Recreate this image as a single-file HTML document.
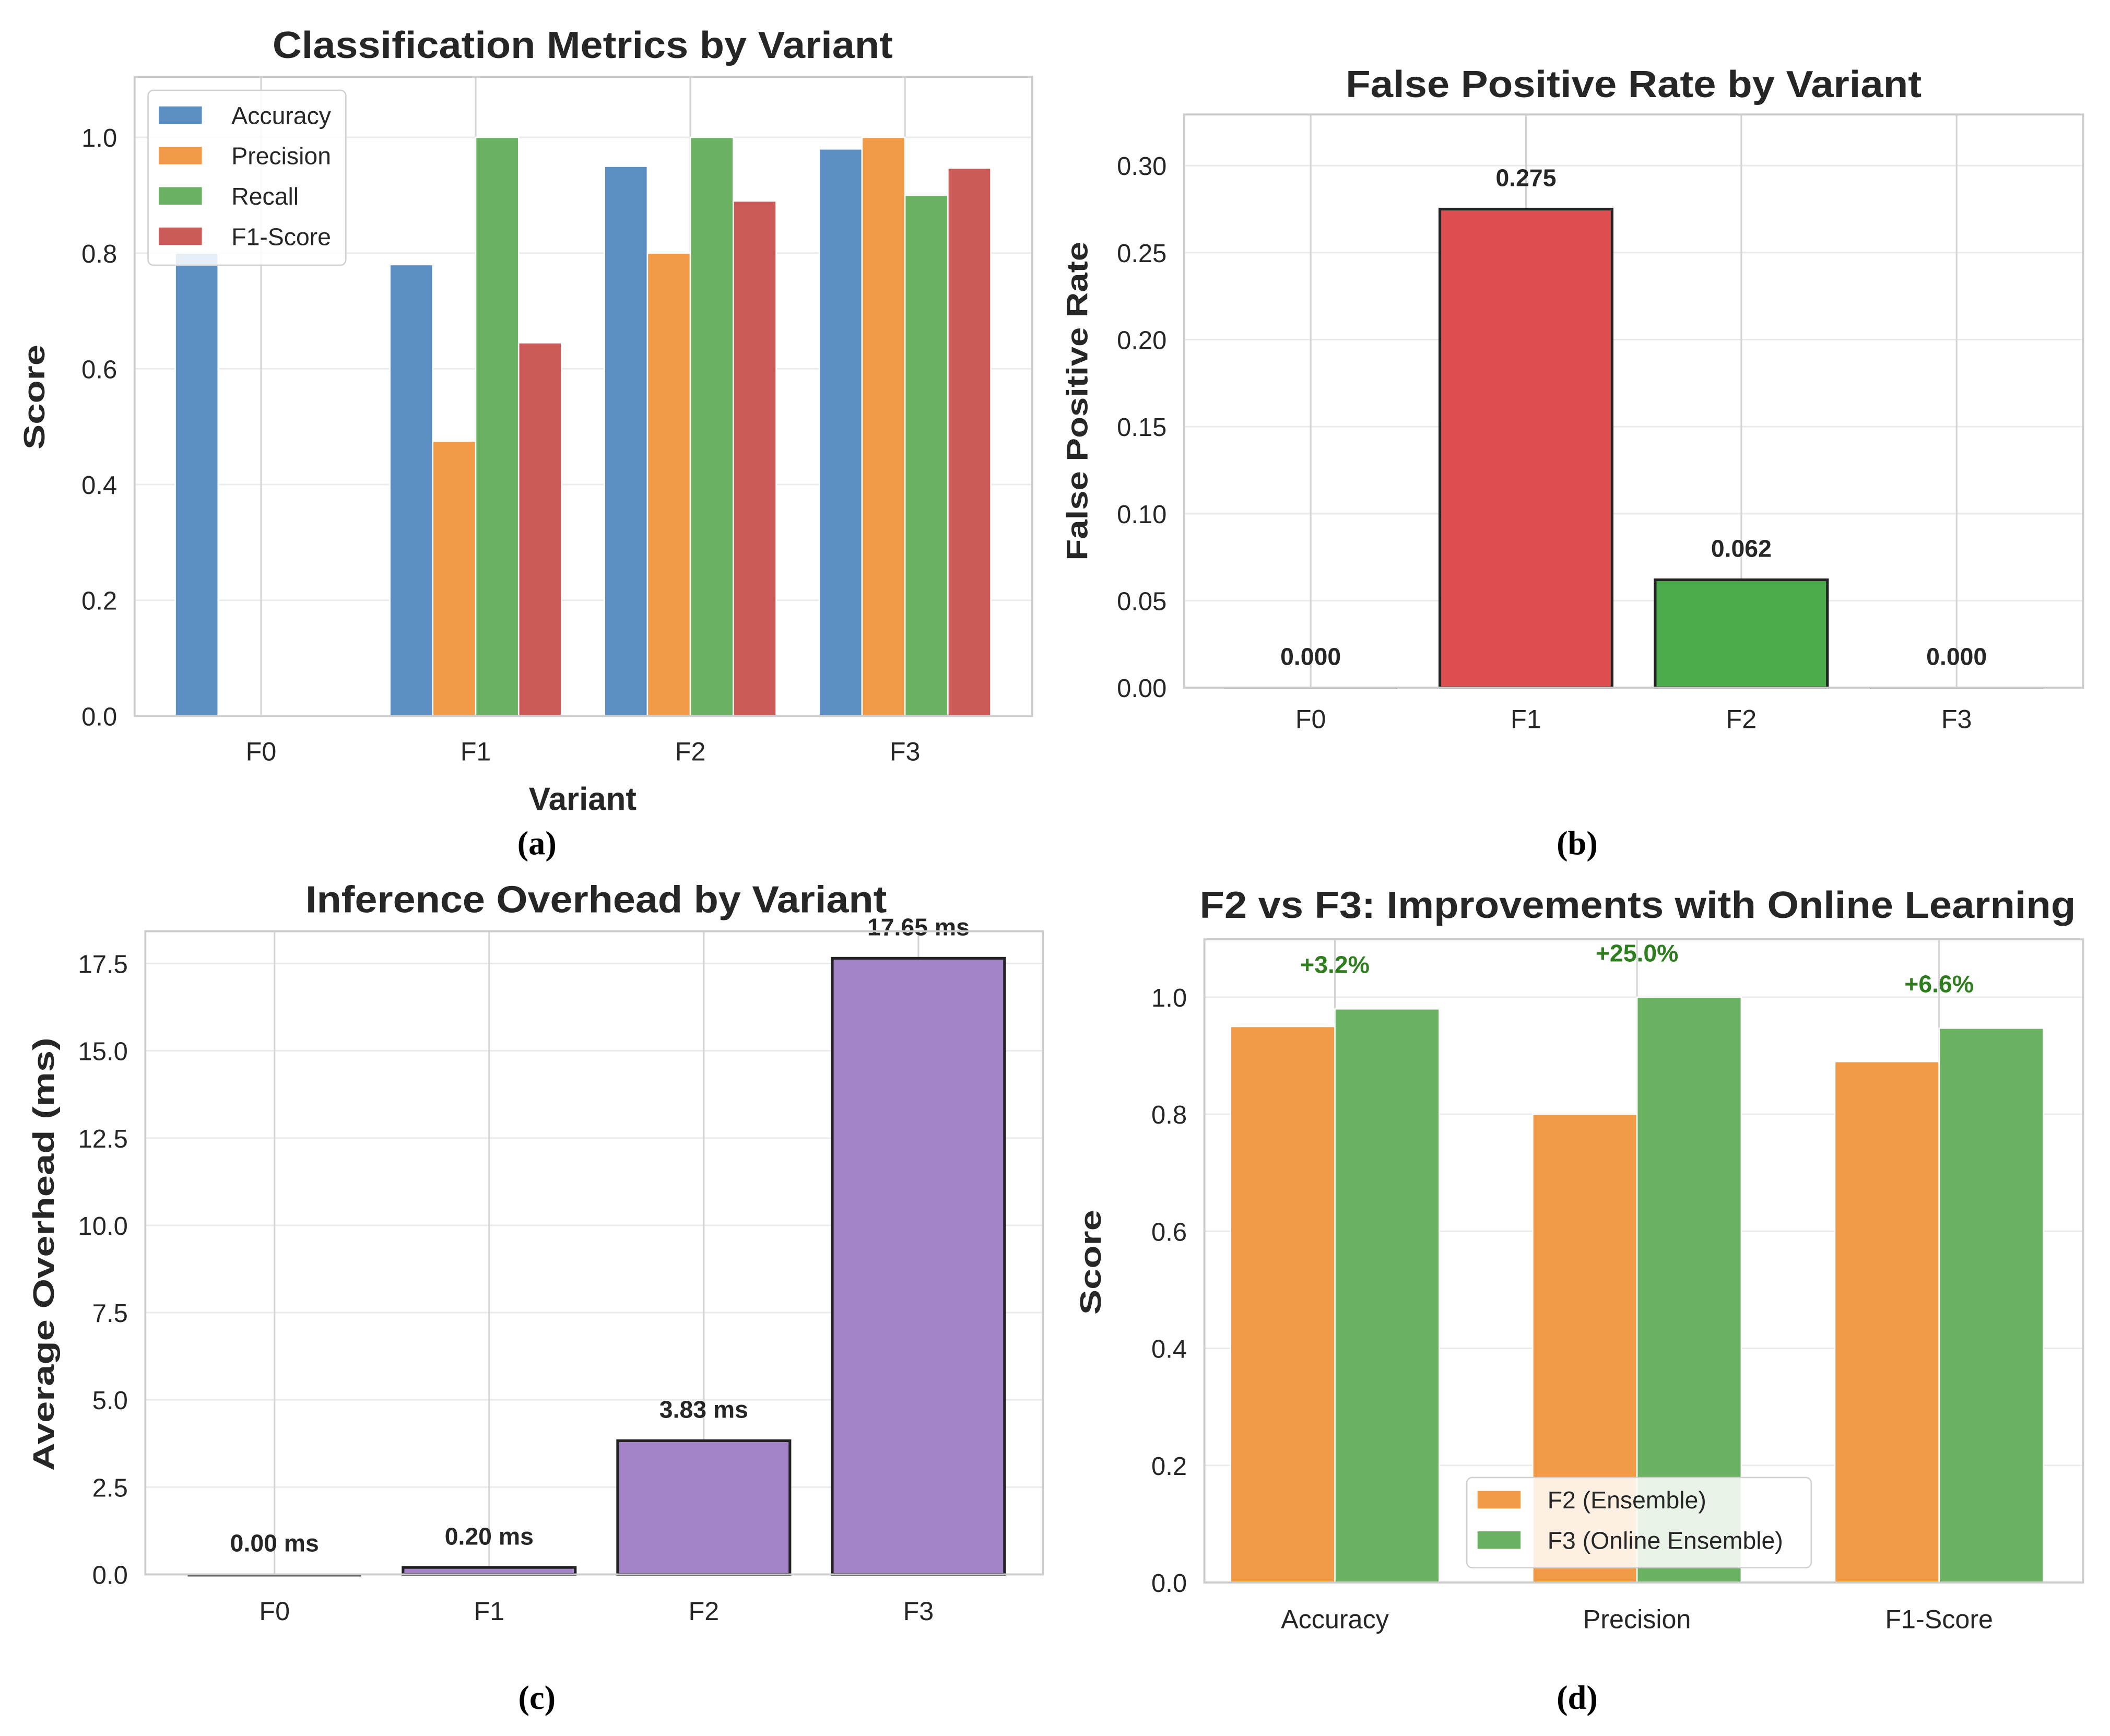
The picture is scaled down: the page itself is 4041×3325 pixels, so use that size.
<!DOCTYPE html>
<html><head><meta charset="utf-8">
<style>
html,body{margin:0;padding:0;background:#fff;}
svg{display:block;font-family:"Liberation Sans",Arial,sans-serif;}
</style></head>
<body>
<svg id="fig" width="4041" height="3325" viewBox="0 0 1568 1290" xmlns="http://www.w3.org/2000/svg"></svg>
<script>
// ---- data ----
const variants = ["F0","F1","F2","F3"];
const metricNames = ["Accuracy","Precision","Recall","F1-Score"];
const accuracy = [0.80,0.78,0.95,0.98];
const precision = [0,0.475,0.80,1.0];
const recall = [0,1.0,1.0,0.90];
const f1score = [0,0.645,0.89,0.947];
const fprValues = [0.000,0.275,0.062,0.000];
const fprLabels = ["0.000","0.275","0.062","0.000"];
const overheadValues = [0.00,0.20,3.83,17.65];
const overheadLabels = ["0.00 ms","0.20 ms","3.83 ms","17.65 ms"];
const cmpCategories = ["Accuracy","Precision","F1-Score"];
const f2Scores = [0.95,0.80,0.89];
const f3Scores = [0.98,1.0,0.947];
const improvementLabels = ["+3.2%","+25.0%","+6.6%"];
const scoreTicks = [0,0.2,0.4,0.6,0.8,1.0];
const fprTicks = [0,0.05,0.10,0.15,0.20,0.25,0.30];
const overheadTicks = [0,2.5,5,7.5,10,12.5,15,17.5];

const svg = document.getElementById('fig');
const NS = "http://www.w3.org/2000/svg";
function mk(tag, attrs, parent){
  const e = document.createElementNS(NS, tag);
  for (const k in attrs) e.setAttribute(k, attrs[k]);
  (parent||svg).appendChild(e);
  return e;
}
function txt(s, attrs, parent){ const e = mk('text', attrs, parent); e.textContent = s; return e; }

function panel(name, box, ymax, ticks, fmt, cats, catX, xoff){
  const g = mk('g', {});
  
  
  const y = v => box.y1 - (v/ymax)*(box.y1-box.y0);
  ticks.forEach(t=>{
    const l = mk('line',{x1:box.x0,x2:box.x1,y1:y(t),y2:y(t),stroke:'#ebebeb','stroke-width':1.2},g);
    
    
    const tl = txt(fmt(t),{x:box.x0-13,y:y(t)+7,'text-anchor':'end','font-size':19,fill:'#262626'},g);
    
    
  });
  cats.forEach((c,i)=>{
    const l = mk('line',{x1:catX(i),x2:catX(i),y1:box.y0,y2:box.y1,stroke:'#d4d4d4','stroke-width':1.2},g);
    
    
    const tl = txt(c,{x:catX(i),y:box.y1+(xoff||30),'text-anchor':'middle','font-size':19.5,fill:'#262626'},g);
    
    
  });
  return {g,y};
}
function frame(g, box){
  const r = mk('rect',{x:box.x0,y:box.y0,width:box.x1-box.x0,height:box.y1-box.y0,fill:'none',stroke:'#cccccc','stroke-width':1.5},g);
  
  
}
function title(g, s, x, y, len){
  const t = txt(s,{x:x,y:y,'text-anchor':'middle','font-size':28,'font-weight':'bold',fill:'#262626',textLength:len,lengthAdjust:'spacingAndGlyphs'},g);
  
  
}
function ylabel(g, s, x, y, len){
  const t = txt(s,{x:0,y:0,transform:`translate(${x},${y}) rotate(-90)`,'text-anchor':'middle','font-size':22,'font-weight':'bold',fill:'#262626',textLength:len,lengthAdjust:'spacingAndGlyphs'},g);
  
  
}
function caption(s, x, y){
  const t = txt(s,{x:x,y:y,'text-anchor':'middle','font-size':25,'font-weight':'bold','font-family':'"Liberation Serif",serif',fill:'#000'});
  
  
}

// ---- Panel A ----
(function(){
  const box={x0:100,x1:767,y0:57,y1:532};
  const ymax = (532-57)/430;
  const cx = i => 194 + i*159.5;
  const p = panel('panel-a-classification-metrics', box, ymax, scoreTicks, t=>t.toFixed(1), variants, cx, 33);
  const series=[accuracy,precision,recall,f1score];
  const colors=['#5b8fc4','#f19a48','#6ab161','#cc5a58'];
  const w=31.9;
  series.forEach((s,k)=>{
    s.forEach((v,i)=>{
      const x = cx(i) + (k-1.5)*w - w/2;
      const r = mk('rect',{x:x,y:p.y(v),width:w,height:p.y(0)-p.y(v),fill:colors[k],stroke:'#fff','stroke-width':1},p.g);
      
      
    });
  });
  frame(p.g, box);
  title(p.g,'Classification Metrics by Variant',433,43,461);
  ylabel(p.g,'Score',33,295,78);
  const xl = txt('Variant',{x:433,y:602,'text-anchor':'middle','font-size':24,'font-weight':'bold',fill:'#262626'},p.g);
  
  
  const lg = mk('g',{},p.g);
  
  
  mk('rect',{x:110,y:67,width:147,height:130,rx:4,fill:'#fff','fill-opacity':0.85,stroke:'#d0d0d0'},lg);
  metricNames.forEach((m,k)=>{
    const e = mk('g',{},lg);
    
    
    mk('rect',{x:118,y:79+k*30,width:32,height:13,fill:colors[k]},e);
    txt(m,{x:172,y:92+k*30,'font-size':18,fill:'#262626'},e);
  });
})();

// ---- Panel B ----
(function(){
  const box={x0:880,x1:1548,y0:85,y1:511};
  const ymax = 0.05*(511-85)/64.67;
  const cx = i => 974 + i*160;
  const p = panel('panel-b-false-positive-rate', box, ymax, fprTicks, t=>t.toFixed(2), variants, cx, 30);
  const colors=['#8c8c8c','#dc4e4f','#4cab4c','#5b8fc4'];
  const w=128;
  fprValues.forEach((v,i)=>{
    const r = mk('rect',{x:cx(i)-w/2,y:p.y(v),width:w,height:Math.max(p.y(0)-p.y(v),0.5),fill:colors[i],stroke:'#222','stroke-width':v>0?2:1},p.g);
    
    
    const t = txt(fprLabels[i],{x:cx(i),y:p.y(v)-17,'text-anchor':'middle','font-size':18,'font-weight':'bold',fill:'#262626'},p.g);
    
    
  });
  frame(p.g, box);
  title(p.g,'False Positive Rate by Variant',1214,72,428);
  ylabel(p.g,'False Positive Rate',808,298,237);
})();

// ---- Panel C ----
(function(){
  const box={x0:108,x1:775,y0:692,y1:1170};
  const ymax = 2.5*(1170-692)/64.86;
  const cx = i => 204 + i*159.5;
  const p = panel('panel-c-inference-overhead', box, ymax, overheadTicks, t=>t.toFixed(1), variants, cx, 34);
  const w=128;
  overheadValues.forEach((v,i)=>{
    const r = mk('rect',{x:cx(i)-w/2,y:p.y(v),width:w,height:Math.max(p.y(0)-p.y(v),1),fill:'#a283c8',stroke:'#222','stroke-width':v>0.1?2:1},p.g);
    
    
    const t = txt(overheadLabels[i],{x:cx(i),y:p.y(v)-17,'text-anchor':'middle','font-size':18,'font-weight':'bold',fill:'#262626'},p.g);
    
    
  });
  frame(p.g, box);
  title(p.g,'Inference Overhead by Variant',443,678,432);
  ylabel(p.g,'Average Overhead (ms)',40,932,322);
})();

// ---- Panel D ----
(function(){
  const box={x0:895,x1:1548,y0:698,y1:1176};
  const ymax = (1176-698)/435;
  const cx = i => 992 + i*224.5;
  const p = panel('panel-d-f2-vs-f3', box, ymax, scoreTicks, t=>t.toFixed(1), cmpCategories, cx, 34);
  const w=77.5;
  cmpCategories.forEach((c,i)=>{
    const a = mk('rect',{x:cx(i)-w,y:p.y(f2Scores[i]),width:w,height:p.y(0)-p.y(f2Scores[i]),fill:'#f19a48',stroke:'#fff','stroke-width':1},p.g);
    
    
    const b = mk('rect',{x:cx(i),y:p.y(f3Scores[i]),width:w,height:p.y(0)-p.y(f3Scores[i]),fill:'#6ab161',stroke:'#fff','stroke-width':1},p.g);
    
    
    const t = txt(improvementLabels[i],{x:cx(i),y:p.y(Math.max(f2Scores[i],f3Scores[i])+0.075)+6,'text-anchor':'middle','font-size':18,'font-weight':'bold',fill:'#2e7d1e'},p.g);
    
    
  });
  frame(p.g, box);
  title(p.g,'F2 vs F3: Improvements with Online Learning',1217,682,651);
  ylabel(p.g,'Score',818,938,78);
  const lg = mk('g',{},p.g);
  
  
  mk('rect',{x:1090,y:1098,width:256,height:67,rx:4,fill:'#fff','fill-opacity':0.85,stroke:'#d0d0d0'},lg);
  ['F2 (Ensemble)','F3 (Online Ensemble)'].forEach((m,k)=>{
    const e = mk('g',{},lg);
    
    
    mk('rect',{x:1098,y:1108+k*30,width:32,height:13,fill:k?'#6ab161':'#f19a48'},e);
    txt(m,{x:1150,y:1121+k*30,'font-size':18,fill:'#262626'},e);
  });
})();

caption('(a)',399,635);
caption('(b)',1172,635);
caption('(c)',399,1270);
caption('(d)',1172,1270);
</script>
</body></html>
